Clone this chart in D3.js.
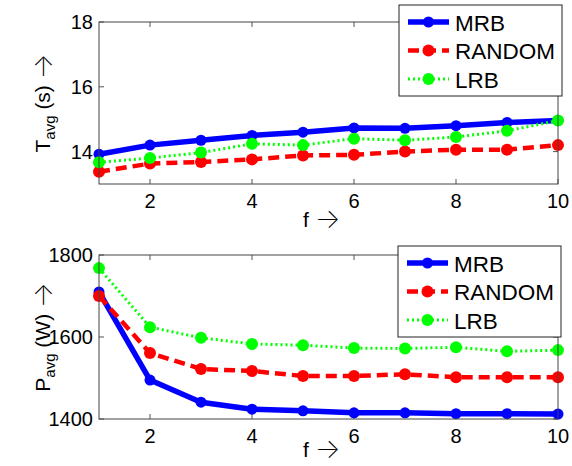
<!DOCTYPE html>
<html>
<head>
<meta charset="utf-8">
<script src="https://cdn.jsdelivr.net/npm/d3@7"></script>
<style>
  body { margin: 0; background: #fff; }
  svg text { font-family: "Liberation Sans", Arial, sans-serif; fill: #000; }
  .arrow { font-family: Inter, "DejaVu Sans", sans-serif; font-weight: 200; }
</style>
</head>
<body>
<svg id="chart" width="572" height="466"></svg>
<script>
// f values on the x axis
const fValues = [1, 2, 3, 4, 5, 6, 7, 8, 9, 10];
const xTicks = [2, 4, 6, 8, 10];

// top panel: average time (s)
const tMRB    = [13.92, 14.2, 14.35, 14.5, 14.6, 14.73, 14.72, 14.8, 14.9, 14.96];
const tRANDOM = [13.38, 13.63, 13.68, 13.76, 13.88, 13.9, 14.0, 14.06, 14.06, 14.2];
const tLRB    = [13.67, 13.8, 13.97, 14.24, 14.2, 14.4, 14.35, 14.45, 14.64, 14.96];
const tTicks  = [14, 16, 18];

// bottom panel: average power (W)
const pMRB    = [1710, 1495, 1441, 1424, 1420, 1415, 1415, 1413, 1413, 1412];
const pRANDOM = [1700, 1561, 1522, 1517, 1505, 1505, 1509, 1502, 1502, 1502];
const pLRB    = [1768, 1624, 1598, 1583, 1580, 1573, 1572, 1575, 1565, 1568];
const pTicks  = [1400, 1600, 1800];

const seriesNames = ["MRB", "RANDOM", "LRB"];

const styles = {
    MRB:    {color: "#0000ff", width: 5.5, dash: null,   r: 5.5},
    RANDOM: {color: "#ff0000", width: 4.5, dash: "11,6", r: 6},
    LRB:    {color: "#00ff00", width: 3,   dash: "2,3",  r: 6}
};

const svg = d3.select("#chart");

function drawPanel(opts) {
    let x = d3.scaleLinear().domain([1, 10]).range([99, 558]);
    let y = d3.scaleLinear().domain(opts.yDomain).range([opts.bottom, opts.top]);
    let g = svg.append("g");

    // ticks inside the box, on all four sides
    let tickLen = 5;
    xTicks.forEach(t => {
        g.append("line").attr("x1", x(t)).attr("x2", x(t))
            .attr("y1", opts.bottom).attr("y2", opts.bottom - tickLen)
            .attr("stroke", "#555").attr("stroke-width", 1);
        g.append("line").attr("x1", x(t)).attr("x2", x(t))
            .attr("y1", opts.top).attr("y2", opts.top + tickLen)
            .attr("stroke", "#555").attr("stroke-width", 1);
        g.append("text").attr("x", x(t)).attr("y", opts.bottom + 24)
            .attr("text-anchor", "middle").attr("font-size", 20).text(t);
    });
    opts.yTicks.forEach(t => {
        g.append("line").attr("x1", 99).attr("x2", 99 + tickLen)
            .attr("y1", y(t)).attr("y2", y(t))
            .attr("stroke", "#555").attr("stroke-width", 1);
        g.append("line").attr("x1", 558).attr("x2", 558 - tickLen)
            .attr("y1", y(t)).attr("y2", y(t))
            .attr("stroke", "#555").attr("stroke-width", 1);
        g.append("text").attr("x", 93).attr("y", y(t) + 7)
            .attr("text-anchor", "end").attr("font-size", 20).text(t);
    });

    let line = d3.line().x((d, i) => x(fValues[i])).y(d => y(d));
    let plot = g.append("g");
    seriesNames.forEach((name, k) => {
        let s = styles[name];
        let vals = opts.series[k];
        plot.append("path").attr("d", line(vals))
            .attr("fill", "none").attr("stroke", s.color)
            .attr("stroke-width", s.width)
            .attr("stroke-dasharray", s.dash)
            .attr("stroke-linejoin", "round");
        plot.selectAll(null).data(vals).enter().append("circle")
            .attr("cx", (d, i) => x(fValues[i])).attr("cy", d => y(d))
            .attr("r", s.r).attr("fill", s.color);
    });

    // box
    g.append("rect").attr("x", 99).attr("y", opts.top)
        .attr("width", 558 - 99).attr("height", opts.bottom - opts.top)
        .attr("fill", "none").attr("stroke", "#444").attr("stroke-width", 1);

    // legend
    let lg = g.append("g").attr("transform", `translate(${opts.legend[0]},${opts.legend[1]})`);
    lg.append("rect").attr("width", 163).attr("height", 91)
        .attr("fill", "#fff").attr("stroke", "#222").attr("stroke-width", 1);
    seriesNames.forEach((name, k) => {
        let s = styles[name];
        let ly = 17 + k * 28.5;
        lg.append("line").attr("x1", 9).attr("x2", 50)
            .attr("y1", ly).attr("y2", ly)
            .attr("stroke", s.color).attr("stroke-width", s.width)
            .attr("stroke-dasharray", s.dash);
        lg.append("circle").attr("cx", 29.5).attr("cy", ly).attr("r", s.r).attr("fill", s.color);
        lg.append("text").attr("x", 56).attr("y", ly + 8.5)
            .attr("font-size", 22.5).text(name);
    });

    // axis labels
    let yl = g.append("text")
        .attr("transform", `translate(50,${opts.labelY}) rotate(-90)`)
        .attr("text-anchor", "middle").attr("font-size", 21);
    yl.append("tspan").text(opts.yLabel[0]);
    yl.append("tspan").attr("font-size", 15).attr("dy", 5).text("avg");
    yl.append("tspan").attr("dy", -5).text(" " + opts.yLabel[1] + " ");
    yl.append("tspan").attr("class", "arrow").attr("font-size", 27).attr("dy", 2).text("\u2192");

    let xl = g.append("text").attr("x", 303).attr("y", opts.bottom + opts.fGap)
        .attr("font-size", 21);
    xl.append("tspan").text("f ");
    xl.append("tspan").attr("class", "arrow").attr("font-size", 27).attr("dy", 1).text("\u2192");
}

drawPanel({
    yDomain: [13, 18], top: 22, bottom: 184, yTicks: tTicks,
    series: [tMRB, tRANDOM, tLRB], legend: [399, 5],
    yLabel: ["T", "(s)"], labelY: 103, fGap: 43
});

drawPanel({
    yDomain: [1400, 1800], top: 255, bottom: 419, yTicks: pTicks,
    series: [pMRB, pRANDOM, pLRB], legend: [398, 246],
    yLabel: ["P", "(W)"], labelY: 337, fGap: 38
});
</script>
</body>
</html>
